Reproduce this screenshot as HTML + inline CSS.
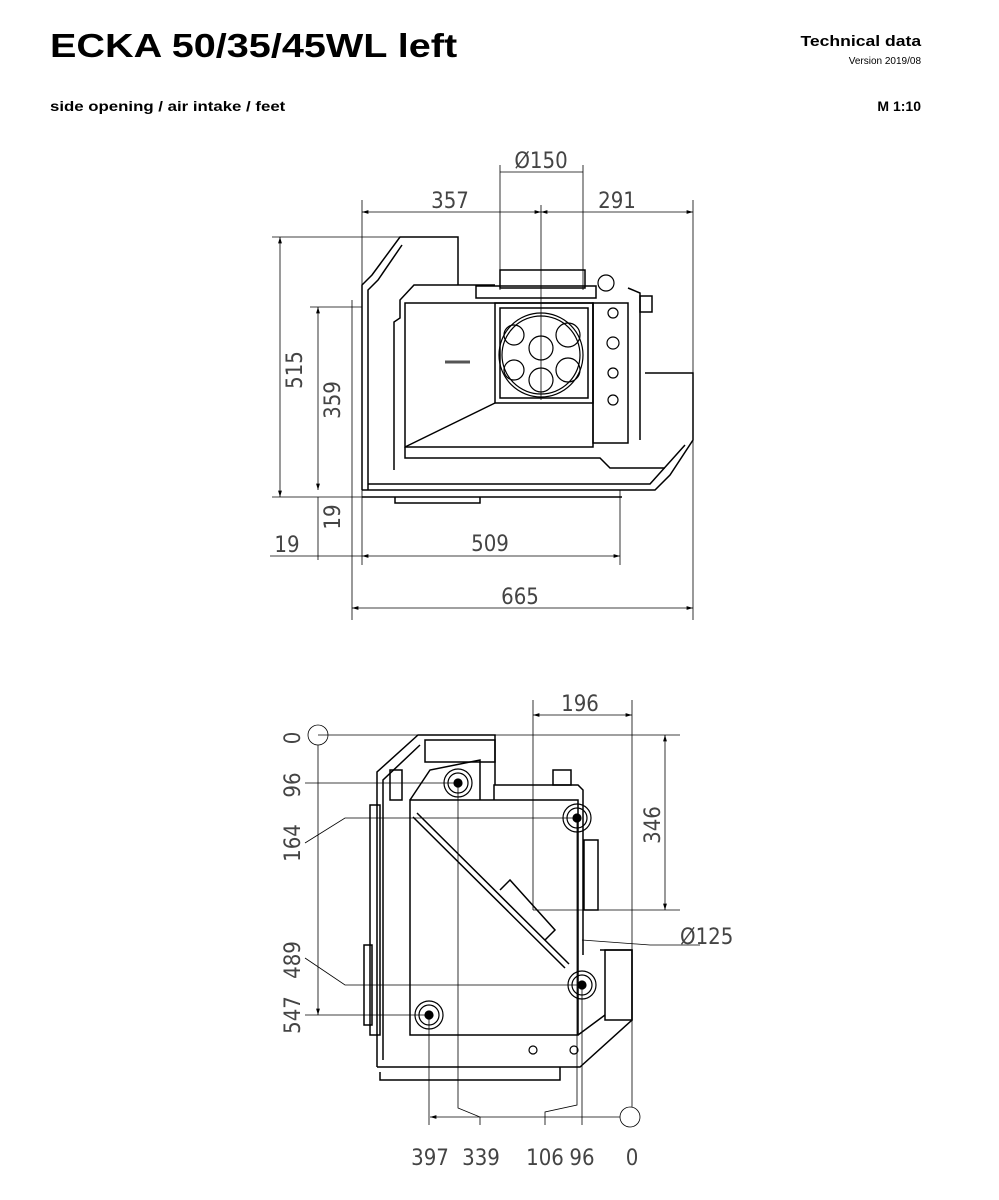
<!DOCTYPE html>
<html><head><meta charset="utf-8"><style>
html,body{margin:0;padding:0;background:#fff}
body{width:999px;height:1200px;position:relative;overflow:hidden;font-family:"Liberation Sans",sans-serif}
.t{position:absolute;font-weight:bold;color:#000;white-space:nowrap}
svg{position:absolute;left:0;top:0}
svg text{font-family:"DejaVu Sans Condensed","DejaVu Sans","Liberation Sans Narrow",sans-serif;font-stretch:condensed;font-weight:200;font-size:22px;fill:#444;stroke:none}
</style></head><body>
<div class="t" style="left:50px;top:27px;font-size:33px;transform:scaleX(1.2);transform-origin:left top">ECKA 50/35/45WL left</div>
<div class="t" style="left:50px;top:98px;font-size:14px;transform:scaleX(1.2);transform-origin:left top">side opening / air intake / feet</div>
<div class="t" style="right:78px;top:33px;font-size:15px;transform:scaleX(1.17);transform-origin:right top">Technical data</div>
<div style="position:absolute;right:78px;top:56px;font-size:10px;white-space:nowrap">Version 2019/08</div>
<div class="t" style="right:78px;top:98px;font-size:14px">M 1:10</div>
<svg width="999" height="1200" viewBox="0 0 999 1200" fill="none" stroke="#000" stroke-width="1">
<defs><marker id="a" viewBox="0 0 10 10" refX="10" refY="5" markerWidth="8" markerHeight="8" orient="auto-start-reverse"><path d="M0,2 L10,5 L0,8 z" fill="#000" stroke="none"/></marker></defs>
<g stroke-width="0.8">
<line x1="362" y1="200" x2="362" y2="300"/><line x1="693" y1="200" x2="693" y2="620"/>
<line x1="500" y1="165" x2="500" y2="290"/><line x1="583" y1="165" x2="583" y2="290"/>
<line x1="541" y1="205" x2="541" y2="400"/>
<line x1="500" y1="172" x2="583" y2="172"/>
<line x1="362" y1="212" x2="541" y2="212" marker-start="url(#a)" marker-end="url(#a)"/>
<line x1="541" y1="212" x2="693" y2="212" marker-start="url(#a)" marker-end="url(#a)"/>
<line x1="272" y1="237" x2="400" y2="237"/><line x1="272" y1="497" x2="362" y2="497"/>
<line x1="280" y1="237" x2="280" y2="497" marker-start="url(#a)" marker-end="url(#a)"/>
<line x1="310" y1="307" x2="362" y2="307"/>
<line x1="318" y1="307" x2="318" y2="490" marker-start="url(#a)" marker-end="url(#a)"/>
<line x1="318" y1="497" x2="318" y2="560"/>
<line x1="352" y1="300" x2="352" y2="620"/><line x1="620" y1="490" x2="620" y2="565"/>
<line x1="362" y1="490" x2="362" y2="565"/>
<line x1="270" y1="556" x2="362" y2="556"/>
<line x1="362" y1="556" x2="620" y2="556" marker-start="url(#a)" marker-end="url(#a)"/>
<line x1="352" y1="608" x2="693" y2="608" marker-start="url(#a)" marker-end="url(#a)"/>
</g>
<text x="541" y="168" text-anchor="middle">Ø150</text>
<text x="450" y="208" text-anchor="middle">357</text>
<text x="617" y="208" text-anchor="middle">291</text>
<text x="490" y="551" text-anchor="middle">509</text>
<text x="520" y="604" text-anchor="middle">665</text>
<text x="287" y="552" text-anchor="middle">19</text>
<text transform="translate(302,370) rotate(-90)" text-anchor="middle">515</text>
<text transform="translate(340,400) rotate(-90)" text-anchor="middle">359</text>
<text transform="translate(340,517) rotate(-90)" text-anchor="middle">19</text>
<g stroke-width="1.5">
<path d="M362,490 L362,285 L372,275 L400,237 L458,237 L458,285"/>
<path d="M368,490 L368,290 L378,280 L402,245"/>
<path d="M394,470 L394,322 L400,318 L400,300 L414,285 L495,285"/>
<path d="M362,490 L655,490 L670,475 L693,440 L693,373 L645,373"/>
<path d="M368,484 L650,484 L685,445"/>
<rect x="405" y="303" width="188" height="144"/>
<rect x="495" y="303" width="98" height="100"/>
<rect x="500" y="308" width="88" height="90"/>
<line x1="405" y1="447" x2="495" y2="403"/>
<rect x="593" y="303" width="35" height="140"/>
<path d="M628,288 L640,293 L640,440"/>
<path d="M405,447 L405,458 L600,458 L610,468 L665,468"/>
<rect x="500" y="270" width="85" height="18"/>
<rect x="476" y="286" width="120" height="12"/>
<rect x="640" y="296" width="12" height="16"/>
<path d="M395,497 L395,503 L480,503 L480,497"/>
<line x1="362" y1="497" x2="622" y2="497"/>
</g>
<g stroke-width="1.2">
<circle cx="541" cy="355" r="42"/><circle cx="541" cy="355" r="39"/>
<circle cx="541" cy="348" r="12"/><circle cx="541" cy="380" r="12"/>
<circle cx="568" cy="335" r="12"/><circle cx="568" cy="370" r="12"/>
<circle cx="514" cy="335" r="10"/><circle cx="514" cy="370" r="10"/>
<circle cx="613" cy="313" r="5"/><circle cx="613" cy="343" r="6"/><circle cx="613" cy="373" r="5"/><circle cx="613" cy="400" r="5"/>
<circle cx="606" cy="283" r="8"/>
</g>
<line x1="445" y1="362" x2="470" y2="362" stroke-width="3" stroke="#555"/>
<g stroke-width="0.8">
<line x1="533" y1="700" x2="533" y2="910"/><line x1="632" y1="700" x2="632" y2="1107"/>
<line x1="533" y1="715" x2="632" y2="715" marker-start="url(#a)" marker-end="url(#a)"/>
<line x1="318" y1="735" x2="680" y2="735"/>
<line x1="533" y1="910" x2="680" y2="910"/>
<line x1="665" y1="735" x2="665" y2="910" marker-start="url(#a)" marker-end="url(#a)"/>
<path d="M582,940 L650,945 L700,945"/>
<circle cx="318" cy="735" r="10"/>
<line x1="318" y1="745" x2="318" y2="1015" marker-end="url(#a)"/>
<line x1="305" y1="783" x2="458" y2="783"/>
<path d="M305,843 L345,818 L577,818"/>
<path d="M305,958 L345,985 L582,985"/>
<line x1="305" y1="1015" x2="429" y2="1015"/>
<circle cx="630" cy="1117" r="10"/>
<line x1="430" y1="1117" x2="620" y2="1117" marker-start="url(#a)"/>
<path d="M429,1015 L429,1125"/>
<path d="M458,783 L458,1108 L480,1117 L480,1125"/>
<path d="M582,985 L582,1125"/>
<path d="M577,818 L577,1105 L545,1112 L545,1125"/>
</g>
<text x="580" y="711" text-anchor="middle">196</text>
<text x="680" y="944">Ø125</text>
<text transform="translate(660,825) rotate(-90)" text-anchor="middle">346</text>
<text transform="translate(300,738) rotate(-90)" text-anchor="middle">0</text>
<text transform="translate(300,785) rotate(-90)" text-anchor="middle">96</text>
<text transform="translate(300,843) rotate(-90)" text-anchor="middle">164</text>
<text transform="translate(300,960) rotate(-90)" text-anchor="middle">489</text>
<text transform="translate(300,1015) rotate(-90)" text-anchor="middle">547</text>
<text x="430" y="1165" text-anchor="middle">397</text>
<text x="481" y="1165" text-anchor="middle">339</text>
<text x="545" y="1165" text-anchor="middle">106</text>
<text x="582" y="1165" text-anchor="middle">96</text>
<text x="632" y="1165" text-anchor="middle">0</text>
<g stroke-width="1.5">
<path d="M377,1067 L377,772 L418,735 L495,735 L495,785"/>
<path d="M383,1060 L383,780 L420,745"/>
<rect x="410" y="800" width="168" height="235"/>
<line x1="413" y1="817" x2="565" y2="968"/>
<line x1="417" y1="813" x2="569" y2="964"/>
<path d="M500,890 L510,880 L555,930 L545,940"/>
<path d="M377,1067 L580,1067 L632,1020 L632,950 L600,950"/>
<path d="M380,1072 L380,1080 L560,1080 L560,1067"/>
<path d="M410,800 L430,770 L480,760 L480,800"/>
<path d="M494,800 L494,785 L578,785 L583,790 L583,955"/>
<rect x="425" y="740" width="70" height="22"/>
<rect x="605" y="950" width="27" height="70"/>
<rect x="553" y="770" width="18" height="15"/>
<rect x="584" y="840" width="14" height="70"/>
<rect x="364" y="945" width="8" height="80"/>
<rect x="370" y="805" width="10" height="230"/>
<rect x="390" y="770" width="12" height="30"/>
<line x1="578" y1="1035" x2="605" y2="1015"/>
</g>
<g stroke-width="1.2">
<circle cx="458" cy="783" r="14"/><circle cx="458" cy="783" r="10"/><circle cx="458" cy="783" r="4" fill="#000"/>
<circle cx="577" cy="818" r="14"/><circle cx="577" cy="818" r="10"/><circle cx="577" cy="818" r="4" fill="#000"/>
<circle cx="582" cy="985" r="14"/><circle cx="582" cy="985" r="10"/><circle cx="582" cy="985" r="4" fill="#000"/>
<circle cx="429" cy="1015" r="14"/><circle cx="429" cy="1015" r="10"/><circle cx="429" cy="1015" r="4" fill="#000"/>
<circle cx="533" cy="1050" r="4"/><circle cx="574" cy="1050" r="4"/>
</g>
</svg>
</body></html>
